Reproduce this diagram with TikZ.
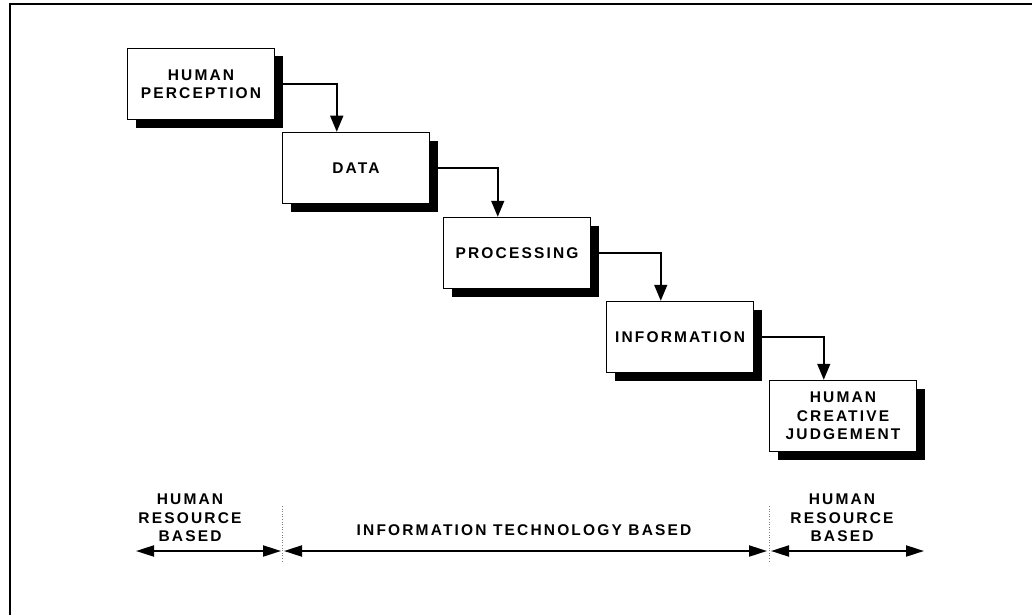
\documentclass[tikz,border=0pt]{standalone}
\usepackage{fontspec}
\setmainfont{Liberation Sans}
\newfontfamily\spacedfont[LetterSpace=14]{Liberation Sans}
\usetikzlibrary{arrows.meta,shadows}
\tikzset{
stage/.style={draw,line width=1.5pt,fill=white,minimum width=147pt,minimum height=71pt,
  align=center,font=\spacedfont\bfseries\fontsize{15.5}{18.5}\selectfont,
  drop shadow={shadow xshift=8pt,shadow yshift=-8pt,fill=black,opacity=1}},
flow/.style={line width=1.5pt,-{Triangle[length=16pt,width=13pt]}},
span/.style={line width=2pt,{Triangle[length=18pt,width=11pt]}-{Triangle[length=18pt,width=11pt]}},
basetext/.style={align=center,inner sep=0pt,font=\spacedfont\bfseries\fontsize{15.5}{18.5}\selectfont},
sepline/.style={dotted,gray,line width=0.6pt}
}
\begin{document}
\begin{tikzpicture}[x=1pt,y=-1pt]
\useasboundingbox (0,0) rectangle (1032,615);
\draw[line width=2pt] (10,615)--(10,4)--(1032,4);
% the chain of stages
\node[stage] (percept) at (201,84) {HUMAN\\PERCEPTION};
\node[stage] (data) at (356,168) {DATA};
\node[stage] (proc) at (517,253) {PROCESSING};
\node[stage] (info) at (680,337) {INFORMATION};
\node[stage] (judge) at (843,416) {HUMAN\\CREATIVE\\JUDGEMENT};
\foreach \a/\b in {percept/data,data/proc,proc/info,info/judge}
\draw[flow] (\a.east) -| ([xshift=55pt]\b.north west);
% the scale below
\path
(136,551) coordinate (L)
(282,551) coordinate (S)
(769,551) coordinate (T)
(924,551) coordinate (R)
;
\draw[sepline] ([yshift=45pt]S)--([yshift=-10pt]S) ([yshift=45pt]T)--([yshift=-10pt]T);
\draw[span] (L)--([xshift=-1pt]S);
\draw[span] ([xshift=2pt]S)--([xshift=-2pt]T);
\draw[span] ([xshift=2pt]T)--(R);
\node[basetext] (hrleft) at (190,518) {HUMAN\\RESOURCE\\BASED};
\node[basetext] (itbased) at (524,530) {INFORMATION TECHNOLOGY BASED};
\node[basetext] (hrright) at (842,518) {HUMAN\\RESOURCE\\BASED};
\end{tikzpicture}
\end{document}
